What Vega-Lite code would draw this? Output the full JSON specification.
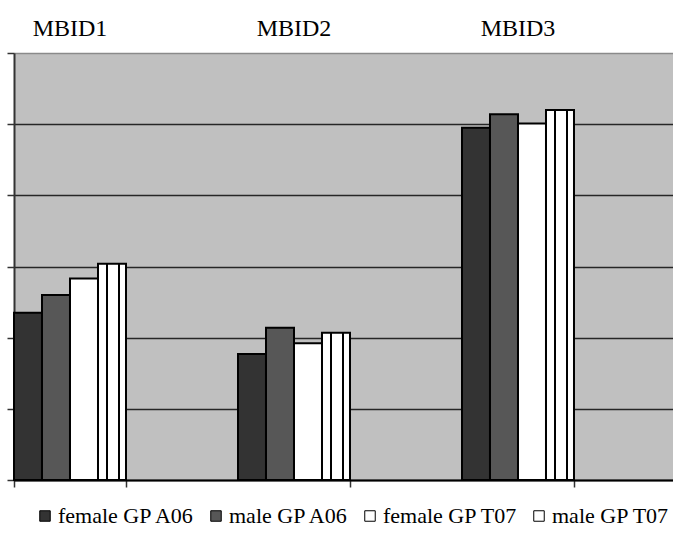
{
  "$schema": "https://vega.github.io/schema/vega-lite/v6.json",
  "width": 659,
  "height": 427,
  "autosize": "none",
  "padding": {"left": 14, "top": 53, "right": 0, "bottom": 53},
  "background": "white",
  "config": {
    "view": {"fill": "#c0c0c0", "stroke": null},
    "font": "Liberation Serif",
    "legend": {"labelFont": "Liberation Serif", "labelFontSize": 22, "labelColor": "black"}
  },
  "data": {
    "values": [
      {"group": "MBID1", "series": "female GP A06", "value": 2.35},
      {"group": "MBID1", "series": "male GP A06", "value": 2.60},
      {"group": "MBID1", "series": "female GP T07", "value": 2.83},
      {"group": "MBID1", "series": "male GP T07", "value": 3.04},
      {"group": "MBID2", "series": "female GP A06", "value": 1.77},
      {"group": "MBID2", "series": "male GP A06", "value": 2.14},
      {"group": "MBID2", "series": "female GP T07", "value": 1.92},
      {"group": "MBID2", "series": "male GP T07", "value": 2.07},
      {"group": "MBID3", "series": "female GP A06", "value": 4.95},
      {"group": "MBID3", "series": "male GP A06", "value": 5.14},
      {"group": "MBID3", "series": "female GP T07", "value": 5.01},
      {"group": "MBID3", "series": "male GP T07", "value": 5.20}
    ]
  },
  "resolve": {"axis": {"x": "independent"}},
  "layer": [
    {
      "mark": {"type": "bar", "stroke": "black", "strokeWidth": 2},
      "encoding": {
        "x": {
          "field": "group", "type": "nominal",
          "scale": {"paddingInner": 0.5, "paddingOuter": 0.221, "align": 0},
          "axis": {"orient": "bottom", "labels": false, "title": null, "tickBand": "extent", "tickSize": 7, "tickColor": "#333333", "tickWidth": 1.5, "domainColor": "#000000", "domainWidth": 2}
        },
        "xOffset": {
          "field": "series", "type": "nominal",
          "sort": ["female GP A06", "male GP A06", "female GP T07", "male GP T07"],
          "scale": {"paddingInner": 0, "paddingOuter": 0}
        },
        "y": {
          "field": "value", "type": "quantitative",
          "scale": {"domain": [0, 6], "nice": false},
          "axis": {
            "values": [0, 1, 2, 3, 4, 5, 6], "labels": false, "title": null,
            "tickSize": 7, "tickColor": "#333333", "tickWidth": 1.5,
            "domainColor": "#333333", "domainWidth": 2,
            "gridColor": {"condition": {"test": "datum.value === 6", "value": "#8a8a8a"}, "value": "#262626"},
            "gridWidth": 1.3
          }
        },
        "fill": {
          "condition": {
            "test": "datum.series === 'male GP T07'",
            "value": {
              "gradient": "linear", "x1": 0, "x2": 1, "y1": 0, "y2": 0,
              "stops": [
                {"offset": 0, "color": "#ffffff"},
                {"offset": 0.3, "color": "#ffffff"},
                {"offset": 0.3, "color": "#000000"},
                {"offset": 0.37, "color": "#000000"},
                {"offset": 0.37, "color": "#ffffff"},
                {"offset": 0.7, "color": "#ffffff"},
                {"offset": 0.7, "color": "#000000"},
                {"offset": 0.77, "color": "#000000"},
                {"offset": 0.77, "color": "#ffffff"},
                {"offset": 1, "color": "#ffffff"}
              ]
            }
          },
          "field": "series", "type": "nominal",
          "sort": ["female GP A06", "male GP A06", "female GP T07", "male GP T07"],
          "scale": {
            "domain": ["female GP A06", "male GP A06", "female GP T07", "male GP T07"],
            "range": ["#333333", "#575757", "#ffffff", "#ffffff"]
          },
          "legend": {
            "orient": "none", "legendX": 20, "legendY": 452, "direction": "horizontal", "title": null,
            "symbolType": "square", "symbolSize": 110, "symbolStrokeColor": "black", "symbolStrokeWidth": 1,
            "symbolOpacity": 1,
            "labelFont": "Liberation Serif", "labelFontSize": 22, "labelColor": "black",
            "columnPadding": 10, "labelOffset": 2
          }
        }
      }
    },
    {
      "mark": {"type": "text", "text": ""},
      "encoding": {
        "x": {
          "field": "group", "type": "nominal",
          "axis": {"orient": "top", "ticks": false, "tickSize": 0, "domain": false, "title": null, "labelAngle": 0, "labelFontSize": 24, "labelFont": "Liberation Serif", "labelColor": "black", "labelPadding": 18, "labelBaseline": "alphabetic"}
        }
      }
    }
  ]
}
